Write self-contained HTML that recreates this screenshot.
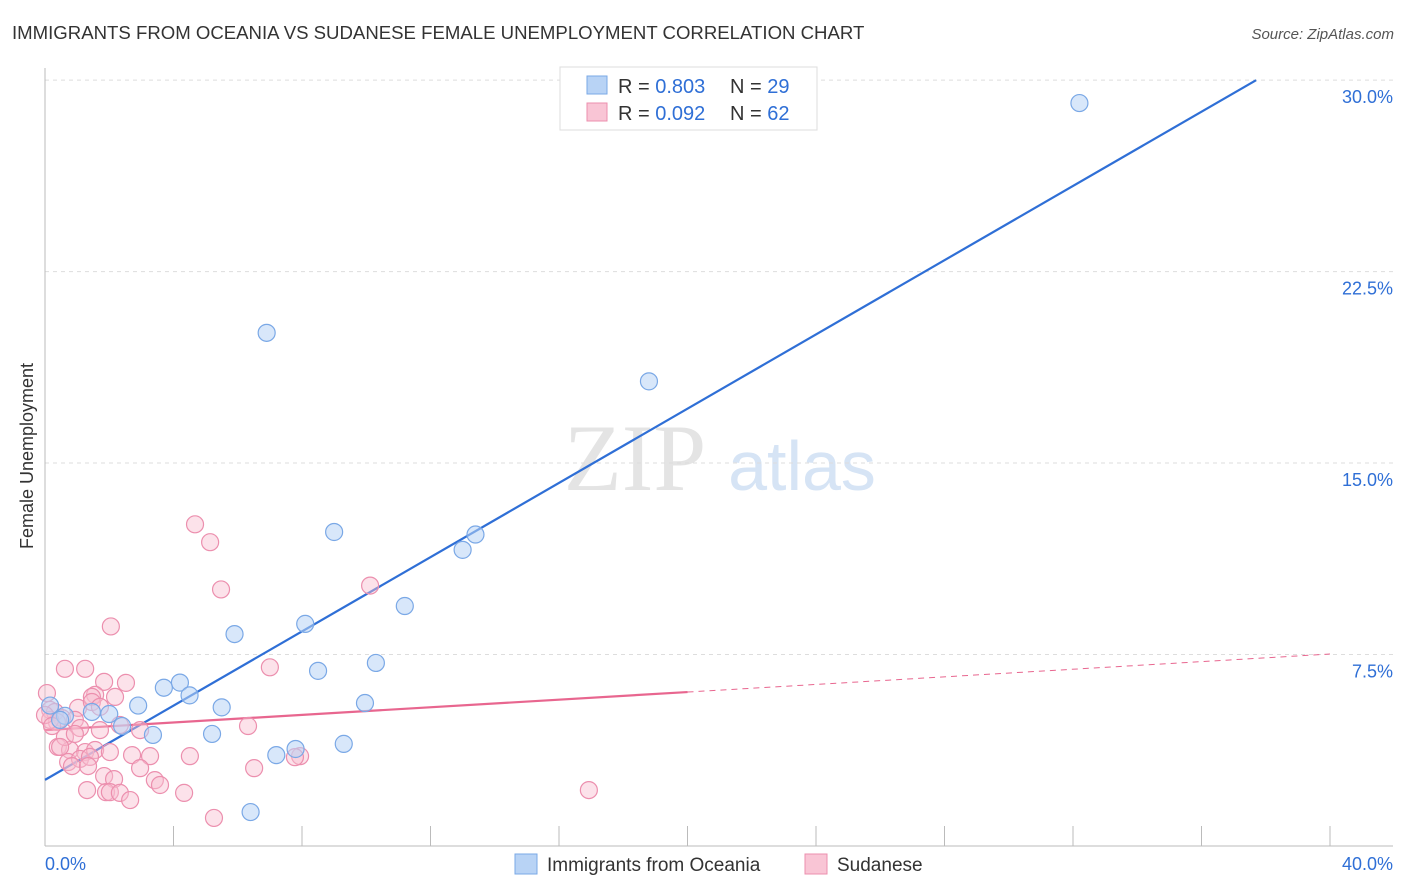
<!DOCTYPE html>
<html><head><meta charset="utf-8"><style>
body{margin:0;background:#fff;font-family:"Liberation Sans",sans-serif}
svg{display:block}
</style></head><body>
<svg id="chart" width="1406" height="892">
<text x="12" y="39" font-size="18.6" fill="#333">IMMIGRANTS FROM OCEANIA VS SUDANESE FEMALE UNEMPLOYMENT CORRELATION CHART</text>
<text x="1394" y="39" font-size="15" fill="#555" font-style="italic" text-anchor="end">Source: ZipAtlas.com</text>
<text x="33" y="456" font-size="18" fill="#333" text-anchor="middle" transform="rotate(-90 33 456)">Female Unemployment</text>
<g><text x="635" y="490" font-size="95" fill="#e4e4e4" font-family="Liberation Serif,serif" text-anchor="middle">ZIP</text><text x="802" y="490" font-size="70" fill="#d6e4f5" text-anchor="middle">atlas</text></g>
<g id="grid"></g><g id="axes"></g><g id="lines"></g><g id="pts"></g>
<g>
<rect x="560" y="67" width="257" height="63" fill="#fff" stroke="#ddd"/>
<rect x="587" y="76" width="20" height="18" fill="#b8d3f5" stroke="#7aa8e6"/>
<rect x="587" y="103" width="20" height="18" fill="#f9c5d5" stroke="#ec8fae"/>
<text x="618" y="93" font-size="20" fill="#333">R = <tspan fill="#2f6fd6">0.803</tspan><tspan x="730">N = </tspan><tspan fill="#2f6fd6">29</tspan></text>
<text x="618" y="120" font-size="20" fill="#333">R = <tspan fill="#2f6fd6">0.092</tspan><tspan x="730">N = </tspan><tspan fill="#2f6fd6">62</tspan></text>
</g>
<g>
<rect x="515" y="854" width="22" height="20" fill="#b8d3f5" stroke="#7aa8e6"/>
<text x="547" y="871" font-size="19" fill="#333">Immigrants from Oceania</text>
<rect x="805" y="854" width="22" height="20" fill="#f9c5d5" stroke="#ec8fae"/>
<text x="837" y="871" font-size="19" fill="#333">Sudanese</text>
</g>
</svg>
<script>
const xTicks=[0,4,8,12,16,20,24,28,32,36,40];
const yTicks=[7.5,15,22.5,30];
const blueX=[32.2,6.9,18.8,9.0,13.4,13.0,11.2,5.9,8.1,8.5,10.3,4.2,3.7,4.5,2.9,5.5,9.96,2.0,0.62,2.4,3.36,5.2,9.3,7.8,7.2,6.4,0.16,1.46,0.47];
const blueY=[29.1,20.1,18.2,12.3,12.2,11.6,9.4,8.3,8.7,6.86,7.17,6.4,6.2,5.9,5.5,5.43,5.6,5.17,5.1,4.7,4.35,4.39,4.0,3.8,3.56,1.33,5.5,5.25,4.94];
const pinkX=[4.67,5.14,5.48,2.05,10.12,0.62,1.25,7.0,1.84,2.52,1.56,1.46,0.06,0.16,0.31,1.03,1.46,0.53,0.37,0.93,1.09,1.71,2.33,2.96,6.32,0.40,0.78,1.25,1.56,2.02,2.71,3.27,4.51,7.94,7.78,0.72,1.09,1.40,0.84,1.34,2.96,1.84,2.15,3.42,3.58,4.33,6.51,1.31,1.90,2.02,2.33,2.65,5.26,16.93,0.16,0,1.71,0.62,0.47,0.93,2.18,0.22];
const pinkY=[12.6,11.9,10.05,8.6,10.2,6.94,6.94,7.0,6.43,6.39,5.92,5.84,5.99,5.33,5.25,5.41,5.64,5.01,4.86,4.94,4.62,4.54,4.74,4.54,4.7,3.88,3.76,3.68,3.76,3.68,3.56,3.52,3.52,3.52,3.48,3.29,3.41,3.49,3.13,3.13,3.05,2.74,2.62,2.58,2.39,2.08,3.05,2.19,2.11,2.11,2.08,1.8,1.1,2.19,4.94,5.13,5.45,4.27,3.88,4.39,5.84,4.7];
const blueFit=[2.59,0.727];
const pinkFit=[4.54,0.0745];
const xs=v=>45+v*32.125, ys=v=>846-v*25.53;
const NS="http://www.w3.org/2000/svg";
function mk(tag,attrs,parent){const e=document.createElementNS(NS,tag);for(const k in attrs)e.setAttribute(k,attrs[k]);document.getElementById(parent).appendChild(e);return e;}
yTicks.forEach(t=>{
 const g=mk('line',{x1:45,x2:1393,y1:ys(t),y2:ys(t),stroke:'#ddd','stroke-dasharray':'4,4'},'grid');
 
 
 const l=mk('text',{x:1393,y:ys(t)+23,'font-size':18,fill:'#2f6fd6','text-anchor':'end'},'axes');l.textContent=t.toFixed(1)+'%';
 
 
});
const ax=mk('line',{x1:45,x2:1393,y1:846,y2:846,stroke:'#bbb'},'axes');


const ay=mk('line',{x1:45,x2:45,y1:68,y2:846,stroke:'#bbb'},'axes');


xTicks.forEach(t=>{const k=mk('line',{x1:xs(t),x2:xs(t),y1:826,y2:846,stroke:'#bbb'},'axes');
 
 });
[[0,'0.0%',45,'start'],[40,'40.0%',1393,'end']].forEach(a=>{const l=mk('text',{x:a[2],y:870,'font-size':18,fill:'#2f6fd6','text-anchor':a[3]},'axes');l.textContent=a[1];
 
 });
const bl=mk('line',{x1:xs(0),y1:ys(blueFit[0]),x2:xs(37.7),y2:ys(blueFit[0]+blueFit[1]*37.7),stroke:'#2f6fd6','stroke-width':2.2},'lines');


const pl=mk('line',{x1:xs(0),y1:ys(pinkFit[0]),x2:xs(20),y2:ys(pinkFit[0]+pinkFit[1]*20),stroke:'#e8668f','stroke-width':2.2},'lines');


const pd=mk('line',{x1:xs(20),y1:ys(pinkFit[0]+pinkFit[1]*20),x2:xs(40),y2:ys(pinkFit[0]+pinkFit[1]*40),stroke:'#e8668f','stroke-width':1,'stroke-dasharray':'6,5'},'lines');


pinkX.forEach((x,i)=>{const c=mk('circle',{cx:xs(x),cy:ys(pinkY[i]),r:8.5,fill:'rgba(249,190,208,0.45)',stroke:'#ec8fae','stroke-width':1.2},'pts');
 
 });
blueX.forEach((x,i)=>{const c=mk('circle',{cx:xs(x),cy:ys(blueY[i]),r:8.5,fill:'rgba(184,211,245,0.55)',stroke:'#7aa8e6','stroke-width':1.2},'pts');
 
 });
</script>
</body></html>
